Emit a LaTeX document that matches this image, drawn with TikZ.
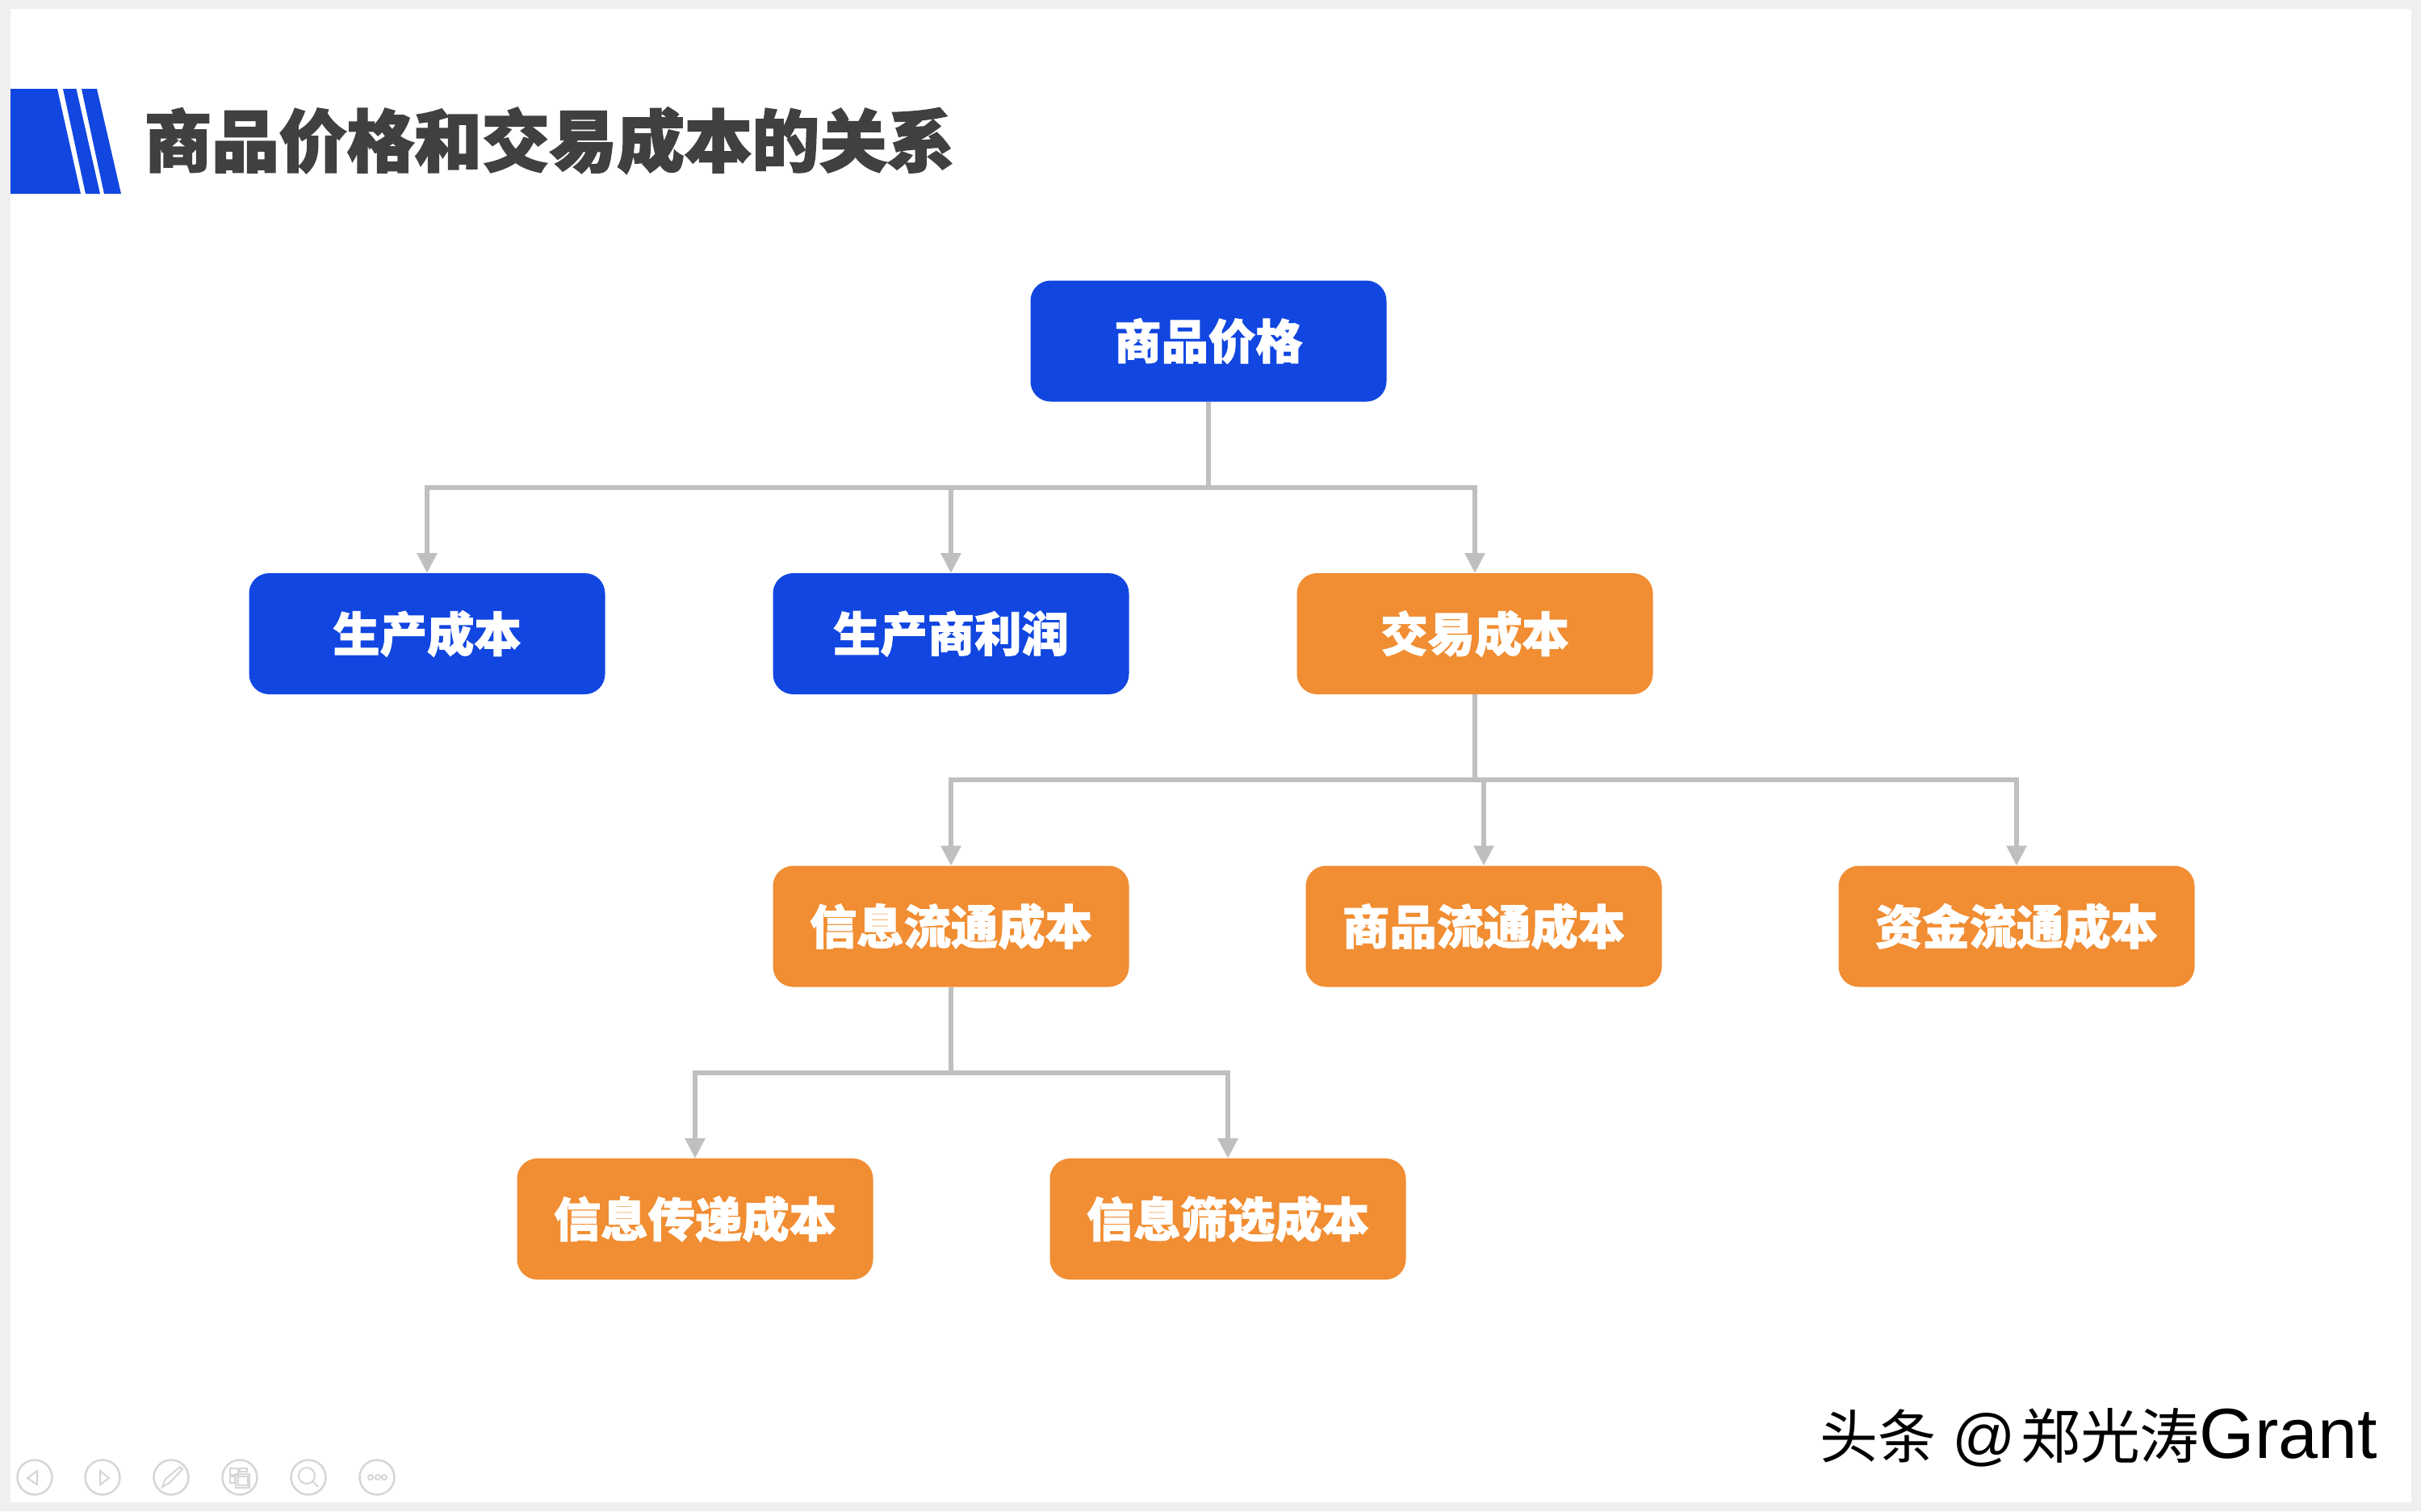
\documentclass[tikz,border=0pt]{standalone}
\usepackage{fontspec}
\setmainfont{Liberation Sans}
\newfontfamily\cjk{Noto Sans CJK SC}[BoldFeatures={FakeBold=1.6}]
\newfontfamily\cjkheavy{Noto Sans CJK SC}[BoldFeatures={FakeBold=2.2}]
\usepackage{xcolor}
\usetikzlibrary{arrows.meta,positioning,calc}
\definecolor{bluefill}{HTML}{1146E0}
\definecolor{orangefill}{HTML}{F18D32}
\definecolor{linkgray}{HTML}{BFBFBF}
\definecolor{titlegray}{HTML}{404040}
\definecolor{pagegray}{HTML}{EFEFEF}
\definecolor{navgray}{HTML}{D6D6D6}
\tikzset{
  costbox/.style ={rounded corners=0.25cm,minimum width=4.41cm,minimum height=1.5cm,
                   inner sep=0pt,outer sep=0pt,text=white,
                   font=\cjk\bfseries\fontsize{16.6}{20}\selectfont},
  bluebox/.style ={costbox,fill=bluefill},
  orangebox/.style={costbox,fill=orangefill},
  link/.style    ={line width=0.06cm,draw=linkgray},
  flow/.style    ={link,-{Triangle[length=0.25cm,width=0.24cm]}},
  navbtn/.style  ={circle,draw=navgray,line width=0.025cm,minimum size=0.43cm,
                   inner sep=0pt,outer sep=0pt},
  navicon/.style ={draw=navgray,line width=0.02cm}
}

\begin{document}
\begin{tikzpicture}[node distance=2.125cm]
    \useasboundingbox (0,0) rectangle (29.99,-18.72);
    \fill[pagegray] (0,0) rectangle (29.99,-18.72);
    \fill[white] (0.13,-0.11) rectangle (29.87,-18.61);

    % heading mark and title
    \fill[bluefill] (0.13,-1.10) -- (0.71,-1.10) -- (1.00,-2.40) -- (0.13,-2.40) -- cycle;
    \fill[bluefill] (0.78,-1.10) -- (0.945,-1.10) -- (1.24,-2.40) -- (1.06,-2.40) -- cycle;
    \fill[bluefill] (1.01,-1.10) -- (1.20,-1.10) -- (1.50,-2.40) -- (1.29,-2.40) -- cycle;
    \node[anchor=west,inner sep=0pt,text=titlegray,font=\cjkheavy\bfseries\fontsize{23.8}{28}\selectfont]
      (title) at (1.78,-1.74) {商品价格和交易成本的关系};

    % cost tree
    \node[bluebox] (price) at (14.97,-4.225) {商品价格};
    \node[bluebox,below=of price,xshift=-3.19cm] (profit) {生产商利润};
    \node[bluebox,left=2.08cm of profit] (prodcost) {生产成本};
    \node[orangebox,right=2.08cm of profit] (trade) {交易成本};
    \node[orangebox,below=of profit] (info) {信息流通成本};
    \node[orangebox,right=2.19cm of info] (goods) {商品流通成本};
    \node[orangebox,right=2.19cm of goods] (funds) {资金流通成本};
    \node[orangebox,below=of info,xshift=-3.17cm] (send) {信息传递成本};
    \node[orangebox,right=2.19cm of send] (screen) {信息筛选成本};

    \coordinate (busa) at ($(price.south)+(0,-1.06)$);
    \coordinate (busb) at ($(trade.south)+(0,-1.06)$);
    \coordinate (busc) at ($(info.south)+(0,-1.06)$);
    \draw[link] (price.south) -- (busa);
    \draw[link] (trade.south) -- (busb);
    \draw[link] (info.south) -- (busc);
    \foreach \child in {prodcost,profit,trade}
      \draw[flow] (busa) -| (\child.north);
    \foreach \child in {info,goods,funds}
      \draw[flow] (busb) -| (\child.north);
    \foreach \child in {send,screen}
      \draw[flow] (busc) -| (\child.north);

    % slide show buttons
    \foreach \x/\name in {0.43/back,1.27/next,2.12/pen,2.97/pages,3.82/zoom,4.67/more}
      \node[navbtn] (\name) at (\x,-18.30) {};
    \draw[navicon] (0.46,-18.22) -- (0.34,-18.31) -- (0.46,-18.39) -- cycle;
    \draw[navicon] (1.24,-18.22) -- (1.35,-18.31) -- (1.24,-18.39) -- cycle;
    \draw[navicon] (2.01,-18.42) -- (2.05,-18.32) -- (2.23,-18.17) -- (2.26,-18.20)
      -- (2.10,-18.37) -- cycle;
    \draw[navicon] (2.85,-18.19) rectangle (2.95,-18.27);
    \draw[navicon] (2.97,-18.19) rectangle (3.06,-18.23);
    \draw[navicon] (2.85,-18.29) rectangle (2.91,-18.37);
    \draw[navicon] (2.92,-18.26) rectangle (3.09,-18.43);
    \draw[navicon] (2.95,-18.29) rectangle (3.07,-18.40);
    \draw[navicon] (3.80,-18.28) circle (0.10);
    \draw[navicon] (3.87,-18.35) -- (3.94,-18.42);
    \foreach \x in {4.59,4.68,4.76}
      \draw[navicon] (\x,-18.30) circle (0.03);

    % account mark
    \node[anchor=west,inner sep=0pt,text=black,font=\fontsize{22}{24}\selectfont]
      (account) at (22.54,-17.81) {{\cjk\fontsize{20.5}{24}\selectfont 头条}\hspace{0.2cm}@\hspace{0.06cm}{\cjk\fontsize{21}{24}\selectfont 郑光涛}{\fontsize{25}{24}\selectfont Grant}};
\end{tikzpicture}
\end{document}
